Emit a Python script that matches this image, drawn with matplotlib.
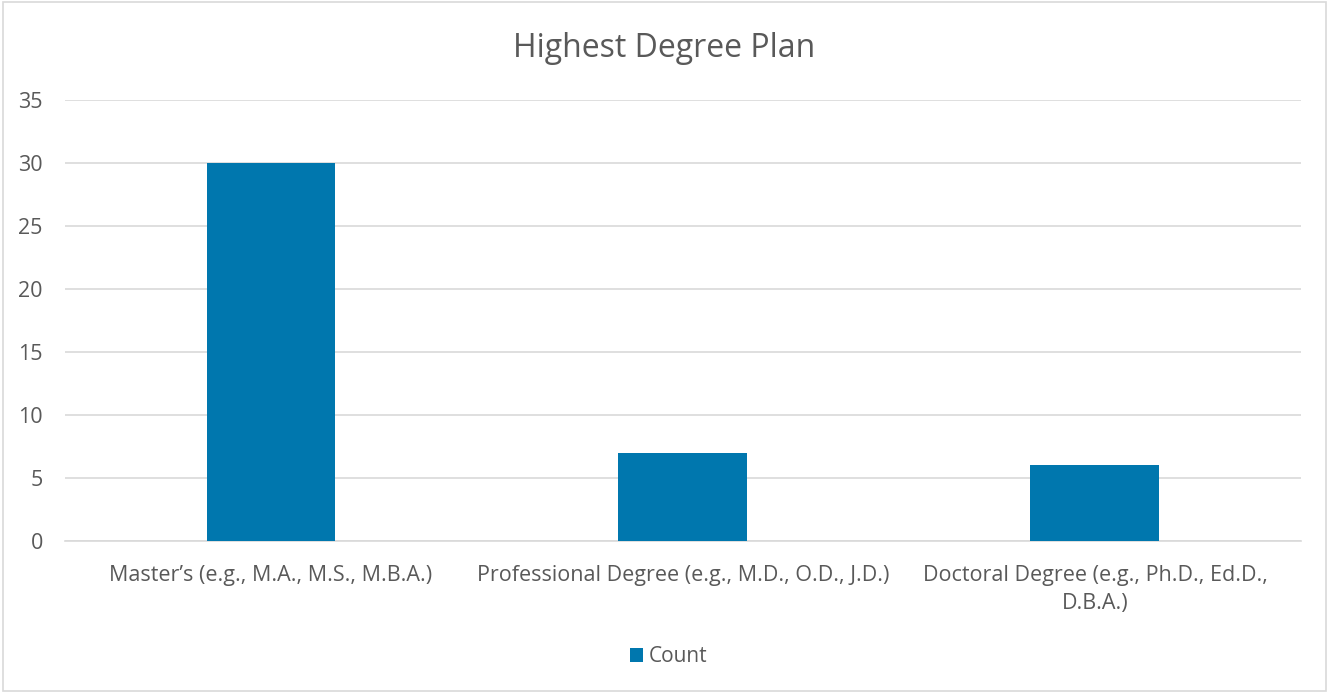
import matplotlib.pyplot as plt
from matplotlib.patches import Rectangle

# data
categories = ["Master\u2019s (e.g., M.A., M.S., M.B.A.)",
              "Professional Degree (e.g., M.D., O.D., J.D.)",
              "Doctoral Degree (e.g., Ph.D., Ed.D.,\nD.B.A.)"]
counts = [30, 7, 6]
yticks = [0, 5, 10, 15, 20, 25, 30, 35]

bar_color = '#0077AE'
text_color = '#595959'
grid_color = '#D9D9D9'

plt.rcParams['font.family'] = ['Open Sans', 'DejaVu Sans']

fig = plt.figure(figsize=(13.29, 6.94), dpi=100)
ax = fig.add_axes([0.0489, 0.2205, 0.9300, 0.6355])

x = range(len(categories))
ax.bar(x, counts, width=0.313, color=bar_color, label='Count', zorder=3)

ax.set_xlim(-0.5, len(categories) - 0.5)
ax.set_ylim(0, 35)
ax.set_yticks(yticks)
ax.set_xticks(list(x))
ax.set_xticklabels(categories, fontsize=15.5, color=text_color, linespacing=1.45)
ax.tick_params(axis='y', labelsize=15.5, labelcolor=text_color, length=0, pad=16)
ax.tick_params(axis='x', length=0, pad=17)
ax.yaxis.grid(True, color=grid_color, linewidth=1.2, zorder=0)
for s in ['top', 'right', 'left']:
    ax.spines[s].set_visible(False)
ax.spines['bottom'].set_color(grid_color)
ax.spines['bottom'].set_linewidth(1.2)

fig.text(0.5, 0.93, 'Highest Degree Plan', ha='center', va='center',
         fontsize=23, color=text_color)

leg = fig.legend(loc='center', bbox_to_anchor=(0.503, 0.054), frameon=False,
                 fontsize=15, handlelength=0.65, handleheight=0.65,
                 handletextpad=0.25)
for t in leg.get_texts():
    t.set_color(text_color)

# outer border
fig.patches.append(Rectangle((0.002, 0.004), 0.996, 0.993, transform=fig.transFigure,
                             fill=False, edgecolor=grid_color, linewidth=1.2))

fig.savefig('out.png', dpi=100)
